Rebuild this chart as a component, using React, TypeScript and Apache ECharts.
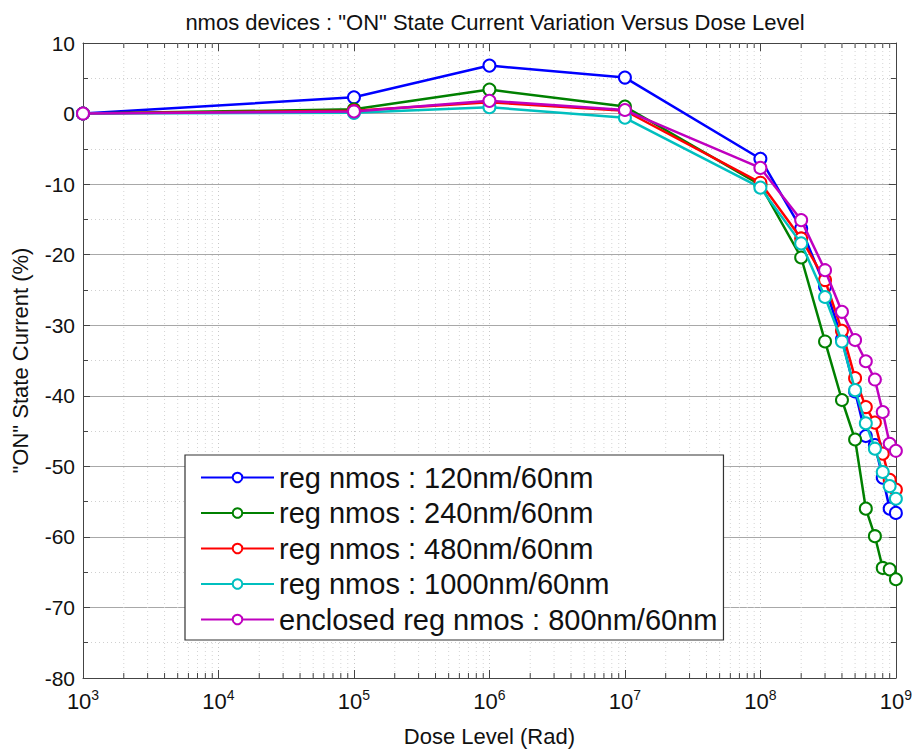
import React, { useEffect, useRef } from "react";
import * as echarts from "echarts";

const doses = [1e3, 1e5, 1e6, 1e7, 1e8, 2e8, 3e8, 4e8, 5e8, 6e8, 7e8, 8e8, 9e8, 1e9];

const seriesNames = [
  "reg nmos : 120nm/60nm",
  "reg nmos : 240nm/60nm",
  "reg nmos : 480nm/60nm",
  "reg nmos : 1000nm/60nm",
  "enclosed reg nmos : 800nm/60nm",
];

const blue120 = [0, 2.3, 6.8, 5.1, -6.4, -16.3, -24.5, -32.0, -39.4, -45.7, -47.0, -51.6, -56.0, -56.6];
const green240 = [0, 0.6, 3.4, 1.0, -10.1, -20.4, -32.3, -40.6, -46.2, -56.0, -59.9, -64.4, -64.6, -66.0];
const red480 = [0, 0.4, 1.6, 0.4, -9.8, -17.7, -23.6, -30.8, -37.5, -41.6, -43.8, -48.2, -51.9, -53.3];
const cyan1000 = [0, 0.1, 0.9, -0.6, -10.5, -18.4, -26.0, -32.3, -39.2, -43.9, -47.5, -50.8, -52.8, -54.6];
const magenta800 = [0, 0.3, 1.8, 0.5, -7.7, -15.1, -22.2, -28.1, -32.1, -35.1, -37.7, -42.3, -46.8, -47.8];

const seriesValues = [blue120, green240, red480, cyan1000, magenta800];
const colors = ["#0000ff", "#008000", "#ff0000", "#00bfbf", "#bf00bf"];

// minor log ticks (2..9 x 10^n)
const minorX: number[] = [];
for (let p = 3; p < 9; p++) {
  for (let k = 2; k <= 9; k++) minorX.push(k * Math.pow(10, p));
}

const FONT = "'Liberation Sans', Arial, sans-serif";

export default function App() {
  const ref = useRef<HTMLDivElement>(null);
  useEffect(() => {
    if (!ref.current) return;
    const chart = echarts.init(ref.current, null, { renderer: "svg" });
    const axisColor = "#444";
    const lineSeries = seriesNames.map((name, i) => ({
      name,
      type: "line",
      xAxisIndex: 0,
      yAxisIndex: 0,
      data: doses.map((d, j) => [d, seriesValues[i][j]]),
      symbol: "emptyCircle",
      symbolSize: 12,
      showSymbol: true,
      color: colors[i],
      lineStyle: { width: 2.5, color: colors[i] },
      itemStyle: { color: colors[i], borderColor: colors[i], borderWidth: 2 },
      z: 5 + i,
    }));
    const option: any = {
      animation: false,
      backgroundColor: "#ffffff",
      textStyle: { fontFamily: FONT },
      title: {
        text: 'nmos devices : "ON" State Current Variation Versus Dose Level',
        left: 490,
        top: 6,
        textAlign: "center",
        textStyle: { fontFamily: FONT, fontSize: 22, fontWeight: "normal", color: "#111" },
      },
      grid: { left: 83, right: 13, top: 43, bottom: 64, containLabel: false },
      legend: {
        data: seriesNames,
        orient: "vertical",
        left: 185,
        top: 455,
        padding: [8, 6, 6, 15],
        itemGap: 6.5,
        itemWidth: 73,
        itemHeight: 12,
        backgroundColor: "#ffffff",
        borderColor: "#333",
        borderWidth: 1.2,
        borderRadius: 0,
        textStyle: { fontFamily: FONT, fontSize: 29, color: "#111", lineHeight: 29 },
      },
      xAxis: [
        {
          type: "log",
          logBase: 10,
          min: 1e3,
          max: 1e9,
          position: "bottom",
          name: "Dose Level (Rad)",
          nameLocation: "middle",
          nameGap: 47,
          nameTextStyle: { fontFamily: FONT, fontSize: 22, color: "#111" },
          axisLine: { show: true, onZero: false, lineStyle: { color: axisColor, width: 1 } },
          axisTick: { show: true, inside: true, length: 8, lineStyle: { color: axisColor } },
          splitLine: { show: true, lineStyle: { color: "#c8c8c8", type: [1, 3], width: 1 } },
          axisLabel: {
            margin: 10,
            formatter: (v: number) => `{b|10}{e|${Math.round(Math.log10(v))}}`,
            rich: {
              b: { fontFamily: FONT, fontSize: 22, color: "#111" },
              e: { fontFamily: FONT, fontSize: 14, color: "#111", verticalAlign: "top", padding: [0, 0, 12, 0] },
            },
          },
        },
        {
          type: "log",
          logBase: 10,
          min: 1e3,
          max: 1e9,
          position: "top",
          axisLine: { show: true, onZero: false, lineStyle: { color: axisColor, width: 1 } },
          axisTick: { show: true, inside: true, length: 8, lineStyle: { color: axisColor } },
          axisLabel: { show: false },
          splitLine: { show: false },
        },
      ],
      yAxis: [
        {
          type: "value",
          min: -80,
          max: 10,
          interval: 10,
          position: "left",
          name: '"ON" State Current (%)',
          nameLocation: "middle",
          nameGap: 52,
          nameTextStyle: { fontFamily: FONT, fontSize: 22, color: "#111" },
          axisLine: { show: true, onZero: false, lineStyle: { color: axisColor, width: 1 } },
          axisTick: { show: true, inside: true, length: 7, lineStyle: { color: axisColor } },
          minorTick: { show: true, splitNumber: 2, length: 5, lineStyle: { color: axisColor } },
          minorSplitLine: { show: true, lineStyle: { color: "#d0d0d0", type: [1, 3], width: 1 } },
          splitLine: { show: true, lineStyle: { color: "#a8a8a8", width: 1 } },
          axisLabel: { margin: 8, fontFamily: FONT, fontSize: 21, color: "#111" },
        },
        {
          type: "value",
          min: -80,
          max: 10,
          interval: 10,
          position: "right",
          axisLine: { show: true, onZero: false, lineStyle: { color: axisColor, width: 1 } },
          axisTick: { show: true, inside: true, length: 7, lineStyle: { color: axisColor } },
          minorTick: { show: true, splitNumber: 2, length: 5, lineStyle: { color: axisColor } },
          axisLabel: { show: false },
          splitLine: { show: false },
        },
      ],
      series: [
        {
          type: "custom",
          name: "minor-grid",
          xAxisIndex: 0,
          yAxisIndex: 0,
          silent: true,
          z: 1,
          data: minorX.map((v) => [v, 0]),
          encode: { x: 0, y: 1 },
          renderItem: (params: any, api: any) => {
            const x = api.coord([api.value(0), 0])[0];
            const cs = params.coordSys;
            const top = cs.y;
            const bottom = cs.y + cs.height;
            return {
              type: "group",
              children: [
                { type: "line", shape: { x1: x, y1: top, x2: x, y2: bottom }, style: { stroke: "#d4d4d4", lineWidth: 1, lineDash: [1, 3] } },
                { type: "line", shape: { x1: x, y1: bottom, x2: x, y2: bottom - 5 }, style: { stroke: axisColor, lineWidth: 1 } },
                { type: "line", shape: { x1: x, y1: top, x2: x, y2: top + 5 }, style: { stroke: axisColor, lineWidth: 1 } },
              ],
            };
          },
        },
        ...lineSeries,
      ],
    };
    chart.setOption(option);
    return () => chart.dispose();
  }, []);
  return <div ref={ref} style={{ width: 915, height: 752, position: "absolute", left: 0, top: 0 }} />;
}
